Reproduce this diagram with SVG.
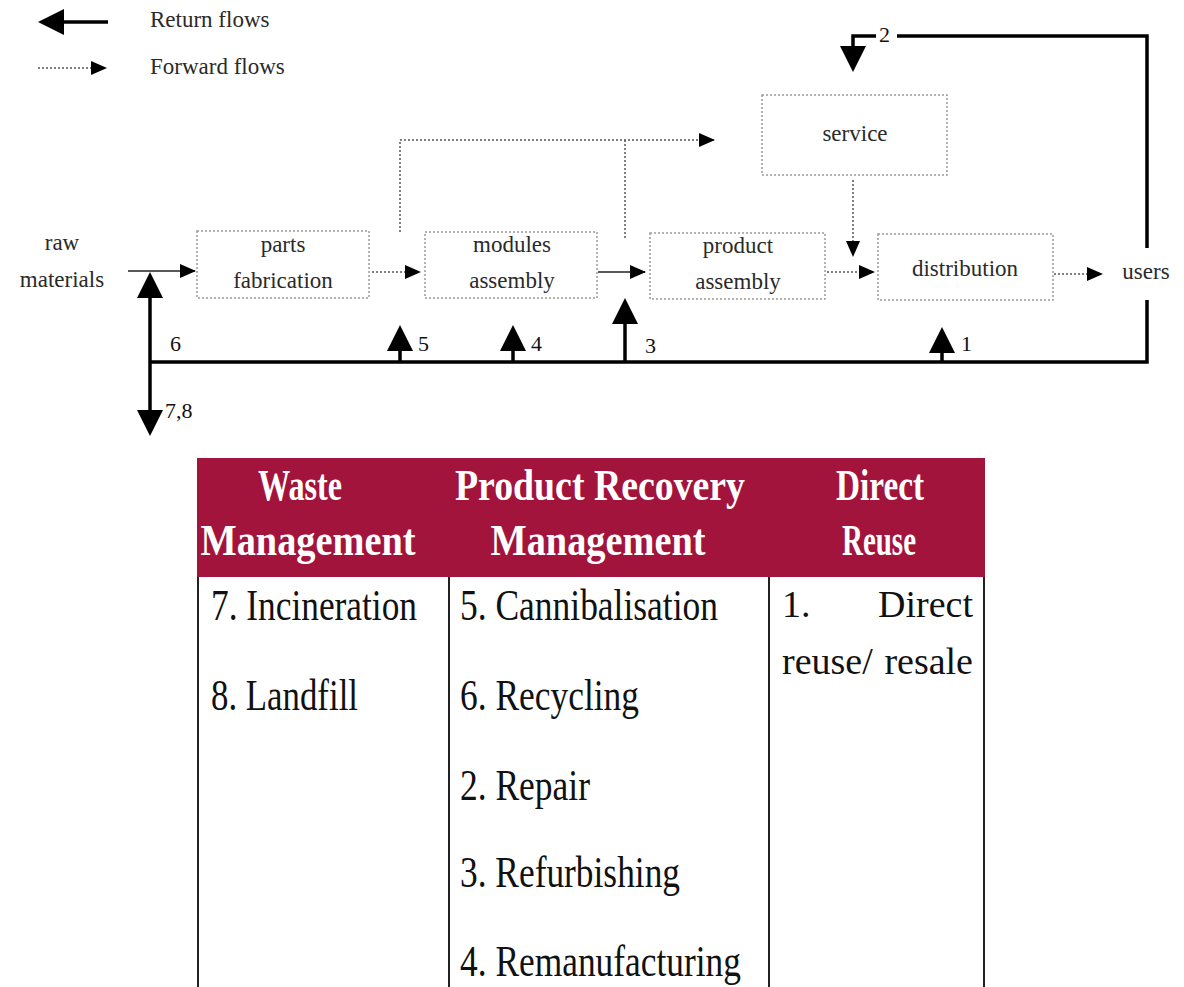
<svg xmlns="http://www.w3.org/2000/svg" width="1184" height="987" viewBox="0 0 1184 987">
  <style>
    .lbl { font-family: "Liberation Serif", "Times New Roman", serif; font-size: 23px; fill: #2a2a2a; }
    .num { font-family: "Liberation Serif", "Times New Roman", serif; font-size: 22px; fill: #111; }
    .box { fill: none; stroke: #9a9a9a; stroke-width: 1.5; stroke-dasharray: 2 2; }
    .ret { fill: none; stroke: #000; stroke-width: 3.5; }
    .fwd { fill: none; stroke: #555; stroke-width: 1.5; stroke-dasharray: 2 2; }
    .fwds { fill: none; stroke: #222; stroke-width: 1.5; }
    .hdr { font-family: "Liberation Serif", "Times New Roman", serif; font-weight: bold; font-size: 44px; fill: #fff; }
    .cell { font-family: "Liberation Serif", "Times New Roman", serif; font-size: 45px; fill: #111; }
    .cell-s { font-family: "Liberation Serif", "Times New Roman", serif; font-size: 38px; fill: #111; }
    .grid { stroke: #222; stroke-width: 2; fill: none; }
  </style>
  <defs>
    <marker id="bigHead" viewBox="0 0 26 26" refX="22" refY="13" markerWidth="26" markerHeight="26" markerUnits="userSpaceOnUse" orient="auto">
      <path d="M0,0 L26,13 L0,26 z" fill="#000"/>
    </marker>
    <marker id="smallHead" viewBox="0 0 16 14" refX="15" refY="7" markerWidth="16" markerHeight="14" markerUnits="userSpaceOnUse" orient="auto">
      <path d="M0,0 L16,7 L0,14 z" fill="#000"/>
    </marker>
  </defs>

  <rect width="1184" height="987" fill="#fff"/>

  <!-- legend -->
  <g id="legend">
    <line class="ret" x1="108" y1="22" x2="42" y2="22" marker-end="url(#bigHead)"/>
    <text class="lbl" x="150" y="27" font-size="21">Return flows</text>
    <line class="fwd" x1="38" y1="68" x2="106" y2="68" marker-end="url(#smallHead)"/>
    <text class="lbl" x="150" y="74" font-size="21">Forward flows</text>
  </g>

  <!-- process nodes -->
  <g id="raw-materials">
    <text class="lbl" x="62" y="250" text-anchor="middle">raw</text>
    <text class="lbl" x="62" y="287" text-anchor="middle">materials</text>
  </g>
  <g id="parts-fabrication">
    <rect class="box" x="197" y="231" width="172" height="67"/>
    <text class="lbl" x="283" y="252" text-anchor="middle">parts</text>
    <text class="lbl" x="283" y="288" text-anchor="middle">fabrication</text>
  </g>
  <g id="modules-assembly">
    <rect class="box" x="425" y="232" width="172" height="66"/>
    <text class="lbl" x="512" y="252" text-anchor="middle">modules</text>
    <text class="lbl" x="512" y="288" text-anchor="middle">assembly</text>
  </g>
  <g id="product-assembly">
    <rect class="box" x="650" y="233" width="175" height="66"/>
    <text class="lbl" x="738" y="253" text-anchor="middle">product</text>
    <text class="lbl" x="738" y="289" text-anchor="middle">assembly</text>
  </g>
  <g id="distribution">
    <rect class="box" x="878" y="234" width="175" height="66"/>
    <text class="lbl" x="965" y="276" text-anchor="middle">distribution</text>
  </g>
  <g id="service">
    <rect class="box" x="762" y="95" width="185" height="80"/>
    <text class="lbl" x="855" y="141" text-anchor="middle">service</text>
  </g>
  <g id="users">
    <text class="lbl" x="1146" y="279" text-anchor="middle">users</text>
  </g>

  <!-- flows -->
  <g id="connectors">
    <!-- forward flows -->
    <line class="fwds" x1="128" y1="271" x2="195" y2="271" marker-end="url(#smallHead)"/>
    <line class="fwd" x1="372" y1="272" x2="420" y2="272" marker-end="url(#smallHead)"/>
    <line class="fwds" x1="598" y1="272" x2="645" y2="272" marker-end="url(#smallHead)"/>
    <line class="fwd" x1="827" y1="272" x2="874" y2="272" marker-end="url(#smallHead)"/>
    <line class="fwd" x1="1054" y1="274" x2="1102" y2="274" marker-end="url(#smallHead)"/>
    <polyline class="fwd" points="400,232 400,140 714,140" marker-end="url(#smallHead)"/>
    <line class="fwd" x1="625" y1="140" x2="625" y2="238"/>
    <line class="fwd" x1="853" y1="180" x2="853" y2="256" marker-end="url(#smallHead)"/>

    <!-- return flows -->
    <polyline class="ret" points="1147,300 1147,362 150,362"/>
    <line class="ret" x1="150" y1="362" x2="150" y2="276" marker-end="url(#bigHead)"/>
    <line class="ret" x1="150" y1="362" x2="150" y2="432" marker-end="url(#bigHead)"/>
    <line class="ret" x1="400" y1="362" x2="400" y2="329" marker-end="url(#bigHead)"/>
    <line class="ret" x1="513" y1="362" x2="513" y2="329" marker-end="url(#bigHead)"/>
    <line class="ret" x1="625" y1="362" x2="625" y2="302" marker-end="url(#bigHead)"/>
    <line class="ret" x1="942" y1="362" x2="942" y2="331" marker-end="url(#bigHead)"/>
    <polyline class="ret" points="1147,248 1147,36 897,36"/>
    <polyline class="ret" points="876,36 853,36 853,68" marker-end="url(#bigHead)"/>

    <text class="num" x="170" y="351">6</text>
    <text class="num" x="165" y="418">7,8</text>
    <text class="num" x="418" y="351">5</text>
    <text class="num" x="531" y="351">4</text>
    <text class="num" x="645" y="353">3</text>
    <text class="num" x="961" y="351">1</text>
    <text class="num" x="879" y="42">2</text>
  </g>

  <!-- recovery options table -->
  <g id="table">
    <rect x="197" y="458" width="788" height="119" fill="#a3143c"/>
    <text class="hdr" x="300" y="500" text-anchor="middle" textLength="84" lengthAdjust="spacingAndGlyphs">Waste</text>
    <text class="hdr" x="308" y="555" text-anchor="middle" textLength="215" lengthAdjust="spacingAndGlyphs">Management</text>
    <text class="hdr" x="600" y="500" text-anchor="middle" textLength="290" lengthAdjust="spacingAndGlyphs">Product Recovery</text>
    <text class="hdr" x="598" y="555" text-anchor="middle" textLength="215" lengthAdjust="spacingAndGlyphs">Management</text>
    <text class="hdr" x="880" y="500" text-anchor="middle" textLength="88" lengthAdjust="spacingAndGlyphs">Direct</text>
    <text class="hdr" x="879" y="555" text-anchor="middle" textLength="74" lengthAdjust="spacingAndGlyphs">Reuse</text>

    <line class="grid" x1="198" y1="577" x2="198" y2="987" stroke="#888"/>
    <line class="grid" x1="449" y1="577" x2="449" y2="987"/>
    <line class="grid" x1="769" y1="577" x2="769" y2="987"/>
    <line class="grid" x1="984" y1="577" x2="984" y2="987"/>

    <text class="cell" x="211" y="620" textLength="206" lengthAdjust="spacingAndGlyphs">7. Incineration</text>
    <text class="cell" x="211" y="710" textLength="147" lengthAdjust="spacingAndGlyphs">8. Landfill</text>

    <text class="cell" x="460" y="620" textLength="258" lengthAdjust="spacingAndGlyphs">5. Cannibalisation</text>
    <text class="cell" x="460" y="710" textLength="179" lengthAdjust="spacingAndGlyphs">6. Recycling</text>
    <text class="cell" x="460" y="800" textLength="130" lengthAdjust="spacingAndGlyphs">2. Repair</text>
    <text class="cell" x="460" y="887" textLength="220" lengthAdjust="spacingAndGlyphs">3. Refurbishing</text>
    <text class="cell" x="460" y="976" textLength="281" lengthAdjust="spacingAndGlyphs">4. Remanufacturing</text>

    <!-- justified cell: 1. Direct reuse/ resale -->
    <text class="cell-s"><tspan x="782" y="617">1.</tspan><tspan x="973" y="617" text-anchor="end">Direct</tspan></text>
    <text class="cell-s"><tspan x="782" y="674">reuse/</tspan><tspan x="973" y="674" text-anchor="end">resale</tspan></text>
  </g>
</svg>
